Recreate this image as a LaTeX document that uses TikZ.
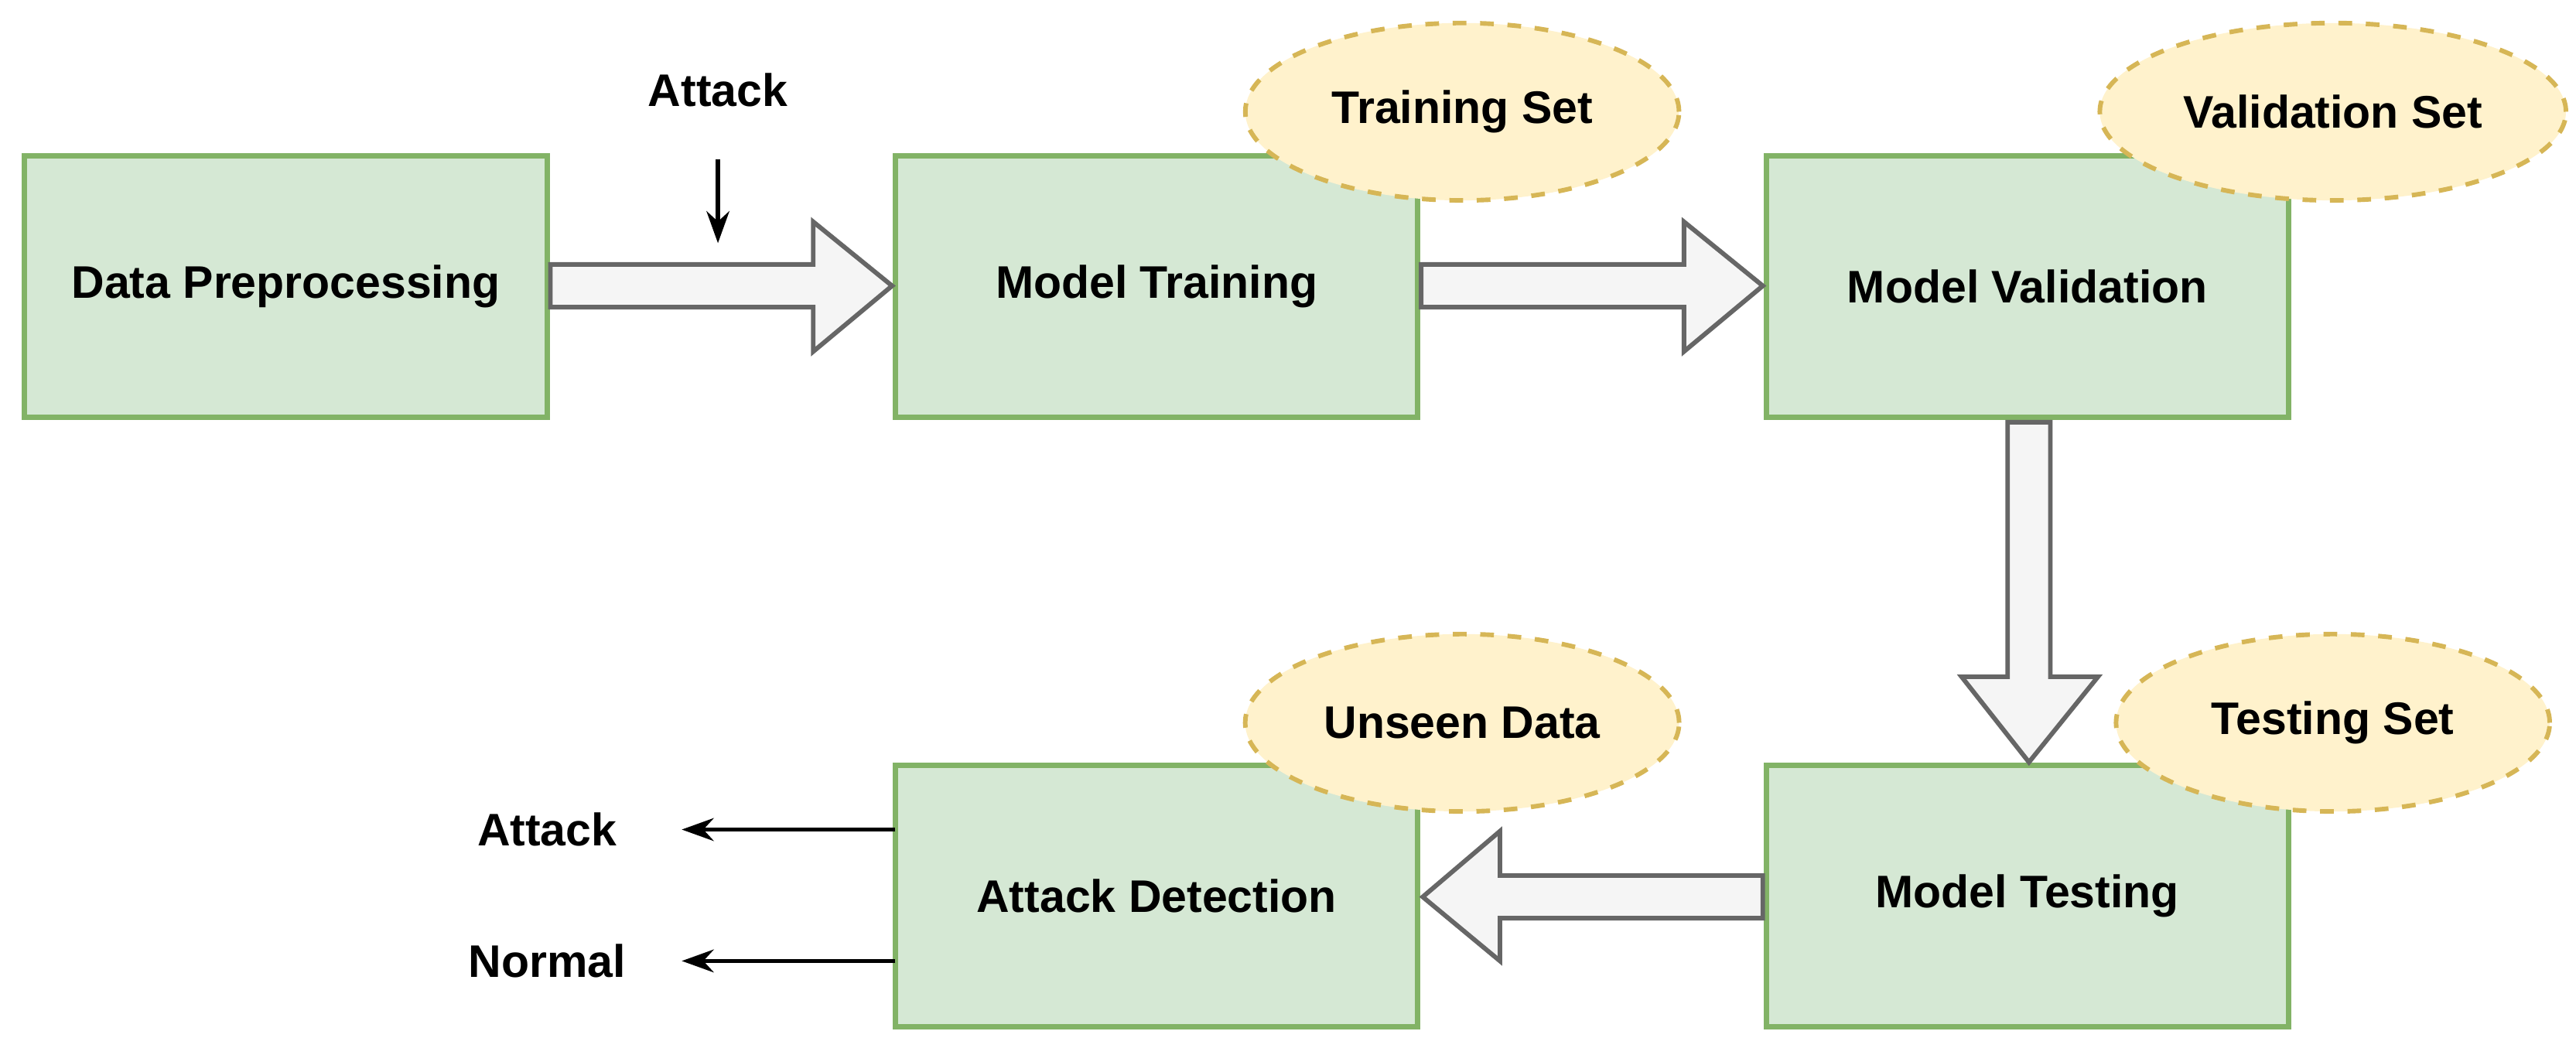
\documentclass[tikz,border=0pt]{standalone}
\usepackage{fontspec}
\setmainfont{Liberation Sans}
\usetikzlibrary{shapes.geometric,arrows.meta}
\begin{document}
\begin{tikzpicture}[x=0.36pt,y=-0.36pt,
 box/.style={draw=green!40!black!60!green,draw={rgb,255:red,130;green,179;blue,102},fill={rgb,255:red,213;green,232;blue,212},line width=1.2pt,minimum width=318*0.36pt,minimum height=159*0.36pt,font=\bfseries,inner sep=0pt},
 ell/.style={ellipse,draw={rgb,255:red,214;green,182;blue,86},fill={rgb,255:red,255;green,242;blue,204},dashed,line width=1pt,minimum width=264*0.36pt,minimum height=108*0.36pt,font=\bfseries},
 barrow/.style={draw={rgb,255:red,102;green,102;blue,102},fill={rgb,255:red,245;green,245;blue,245},line width=1pt,line join=miter},
 lbl/.style={font=\bfseries},
 sarr/.style={-{Stealth[length=7pt,width=5pt]},line width=0.9pt}]
\useasboundingbox (0,0) rectangle (1568,642);
\node[box] (dp) at (174,174.5) {Data Preprocessing};
\node[box] (mt) at (704,174.5) {Model Training};
\node[box] (mv) at (1234,174.5) {Model Validation};
\node[box] (mte) at (1234,545.5) {Model Testing};
\node[box] (ad) at (704,545.5) {Attack Detection};
\node[ell] (ts) at (890,68) {Training Set};
\node[ell] (vs) at (1420,68) {Validation Set};
\node[ell] (tes) at (1420,440) {Testing Set};
\node[ell] (ud) at (890,440) {Unseen Data};
% block arrows
\draw[barrow] (335,161)--(495,161)--(495,135)--(543,174)--(495,214)--(495,187)--(335,187)--cycle;
\draw[barrow] (865,161)--(1025,161)--(1025,135)--(1073,174)--(1025,214)--(1025,187)--(865,187)--cycle;
\draw[barrow] (1222,257)--(1248,257)--(1248,412)--(1277,412)--(1235,464)--(1194,412)--(1222,412)--cycle;
\draw[barrow] (1073,533)--(913,533)--(913,506)--(866,546)--(913,585)--(913,559)--(1073,559)--cycle;
% labels
\node[lbl] (atk) at (437,55) {Attack};
\coordinate (a1) at (437,97);
\coordinate (a2) at (437,148);
\draw[sarr] (a1)--(a2);
\node[lbl] (oa) at (333,505) {Attack};
\node[lbl] (on) at (333,585) {Normal};
\coordinate (s1) at (545,505);
\coordinate (s2) at (545,585);
\draw[sarr] (s1)--(415,505);
\draw[sarr] (s2)--(415,585);
\end{tikzpicture}
\end{document}
